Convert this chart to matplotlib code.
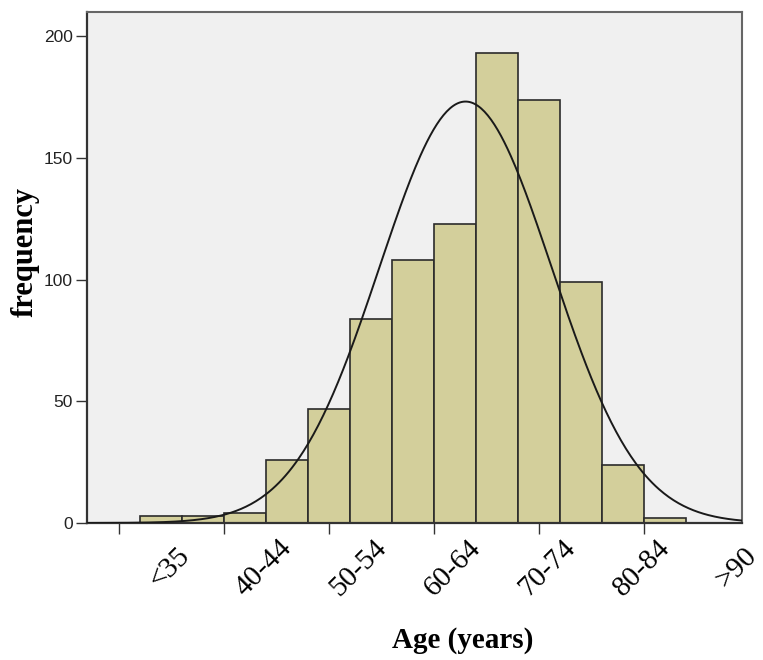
import numpy as np
import matplotlib
matplotlib.use("Agg")
import matplotlib.pyplot as plt
import matplotlib.transforms as mtransforms

# histogram of age, 4-year bins
bin_edges = [32, 36, 40, 44, 48, 52, 56, 60, 64, 68, 72, 76, 80, 84, 88]
counts = [3, 3, 4, 26, 47, 84, 108, 123, 193, 174, 99, 24, 2, 0]
age_labels = ["<35", "40-44", "50-54", "60-64", "70-74", "80-84", ">90"]
tick_marks = [30, 40, 50, 60, 70, 80]
fit_mean = 63.0
fit_sd = 8.2

fig = plt.figure(figsize=(7.63, 6.60), dpi=100)
ax = fig.add_axes([0.114, 0.2076, 0.8585, 0.7742])
ax.set_facecolor("#f0f0f0")

widths = np.diff(bin_edges)
ax.bar(bin_edges[:-1], counts, width=widths, align="edge",
       color="#d3cf9b", edgecolor="#2b2b2b", linewidth=1.2, zorder=2)

# fitted normal curve
n = sum(counts)
bw = widths[0]
xs = np.linspace(26.9, 89.4, 400)
ys = n * bw / (fit_sd * np.sqrt(2 * np.pi)) * np.exp(-0.5 * ((xs - fit_mean) / fit_sd) ** 2)
ax.plot(xs, ys, color="#1a1a1a", linewidth=1.4, zorder=3)

ax.set_xlim(26.95, 89.33)
ax.set_ylim(0, 210)

ax.set_yticks([0, 50, 100, 150, 200])
ax.tick_params(axis="y", direction="out", length=8, width=1, color="#333333",
               labelsize=12.5, pad=2)
for lab in ax.get_yticklabels():
    lab.set_fontfamily("Liberation Sans")
    lab.set_color("#222222")

ax.set_xticks(tick_marks)
ax.set_xticklabels([])
ax.tick_params(axis="x", direction="out", length=8, width=1, color="#333333")

for side in ["left", "bottom"]:
    ax.spines[side].set_color("#333333")
    ax.spines[side].set_linewidth(1.6)
for side in ["top", "right"]:
    ax.spines[side].set_color("#666666")
    ax.spines[side].set_linewidth(1.5)

# rotated category labels, evenly spaced below the axis
trans = mtransforms.blended_transform_factory(ax.transData, ax.transAxes)
label_start = 34.8
label_step = 9.0
for i, lab in enumerate(age_labels):
    ax.text(label_start + i * label_step, -0.088, lab, transform=trans,
            rotation=45, ha="center", va="center", fontsize=21,
            family="Liberation Serif", clip_on=False)

fig.text(0.606, 0.030, "Age (years)", ha="center", va="center",
         fontsize=21, fontweight="bold", family="Liberation Serif")
fig.text(0.033, 0.618, "frequency", ha="center", va="center", rotation=90,
         fontsize=22, fontweight="bold", family="Liberation Serif")

fig.savefig("out.png", dpi=100)
